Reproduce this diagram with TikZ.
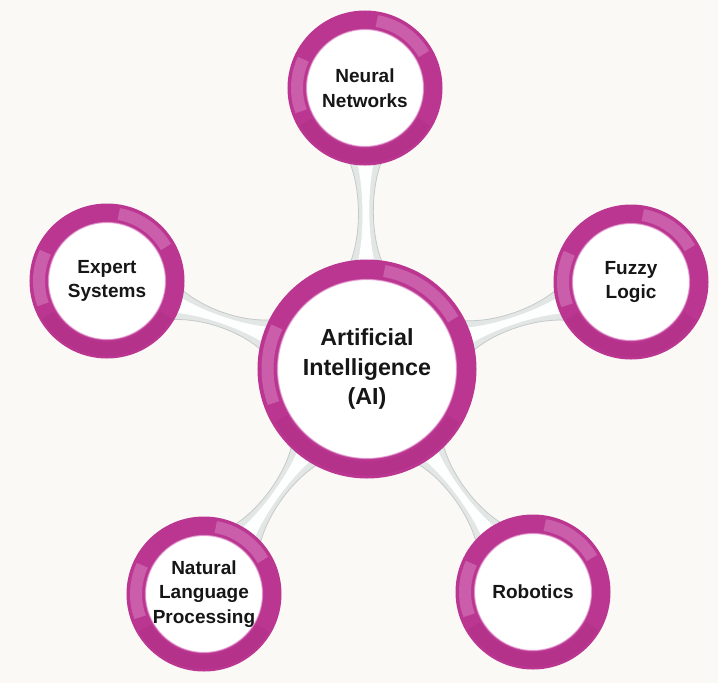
\documentclass[tikz,border=0pt]{standalone}
\usepackage{fontspec}
\setmainfont{Liberation Sans}
\usetikzlibrary{calc,backgrounds}
\definecolor{bg}{RGB}{251,249,246}
\definecolor{ringc}{RGB}{186,54,144}
\definecolor{ringdk}{RGB}{150,30,110}
\definecolor{ringlt}{RGB}{228,156,210}
\definecolor{boneedge}{RGB}{196,202,202}
\definecolor{bonec}{RGB}{226,230,229}
\definecolor{bonehl}{RGB}{253,254,254}
\definecolor{txt}{RGB}{22,22,22}
% #1 style, #2 from node, #3 to node, #4 end half-width, #5 waist half-width
\newcommand\bonelink[5]{\path[#1] let \p1=(#2.center), \p2=(#3.center) in
  ($(\p1)!95pt!(\p2)!#4!90:(\p2)$)
  .. controls ($(\p1)!124pt!(\p2)!#5!90:(\p2)$) and ($(\p2)!92pt!(\p1)!#5!-90:(\p1)$) ..
  ($(\p2)!62pt!(\p1)!#4!-90:(\p1)$) -- ($(\p2)!62pt!(\p1)!#4!90:(\p1)$)
  .. controls ($(\p2)!92pt!(\p1)!#5!90:(\p1)$) and ($(\p1)!124pt!(\p2)!#5!-90:(\p2)$) ..
  ($(\p1)!95pt!(\p2)!#4!-90:(\p2)$) -- cycle;}
\begin{document}
\begin{tikzpicture}[x=1pt,y=-1pt,
  hub/.style={circle, fill=white, draw=ringc, line width=20pt, minimum size=199pt,
    inner sep=0pt, align=center, text=txt, font=\bfseries\fontsize{23.3}{29.5}\selectfont},
  sat/.style={circle, fill=white, draw=ringc, line width=19pt, minimum size=136pt,
    inner sep=0pt, align=center, text=txt, font=\bfseries\fontsize{19}{24.5}\selectfont},
  bonebase/.style={fill=bonec, draw=boneedge, line width=0.8pt},
  bonehi/.style={fill=bonehl},
  hl/.style={draw=ringlt, line width=12pt, opacity=0.4},
  dk/.style={draw=ringdk, line width=14pt, opacity=0.16},
  inedge/.style={draw=ringlt, line width=1.2pt, opacity=0.7}]
\useasboundingbox (0,0) rectangle (718,683);

\node[hub] (c) at (367,369) {Artificial\\Intelligence\\(AI)};
\node[sat] (nn) at (365,88) {Neural\\Networks};
\node[sat] (es) at (107,281) {Expert\\Systems};
\node[sat] (fl) at (631,282) {Fuzzy\\Logic};
\node[sat] (nlp) at (204,594) {Natural\\Language\\Processing};
\node[sat] (rb) at (533,592) {Robotics};

\begin{scope}[on background layer]
  \fill[bg] (0,0) rectangle (718,683);
  \foreach \s in {nn,es,fl,nlp,rb} {
    \bonelink{bonebase}{c}{\s}{22pt}{2.6pt}
    \bonelink{bonehi}{c}{\s}{12pt}{0.6pt}
  }
\end{scope}

% glossy shading on the rings
\foreach \s/\r in {c/99.5,nn/68,es/68,fl/68,nlp/68,rb/68} {
  \draw[dk] ($(\s.center)+(210:\r pt)$) arc[start angle=210, end angle=330, radius=\r pt];
  \draw[hl] ($(\s.center)+(30:\r pt)$) arc[start angle=30, end angle=80, radius=\r pt];
  \draw[hl] ($(\s.center)+(155:\r pt)$) arc[start angle=155, end angle=200, radius=\r pt];
}
\foreach \s/\r in {c/89.5,nn/58.5,es/58.5,fl/58.5,nlp/58.5,rb/58.5} {
  \draw[inedge] (\s.center) circle[radius=\r pt];
}
\end{tikzpicture}
\end{document}
